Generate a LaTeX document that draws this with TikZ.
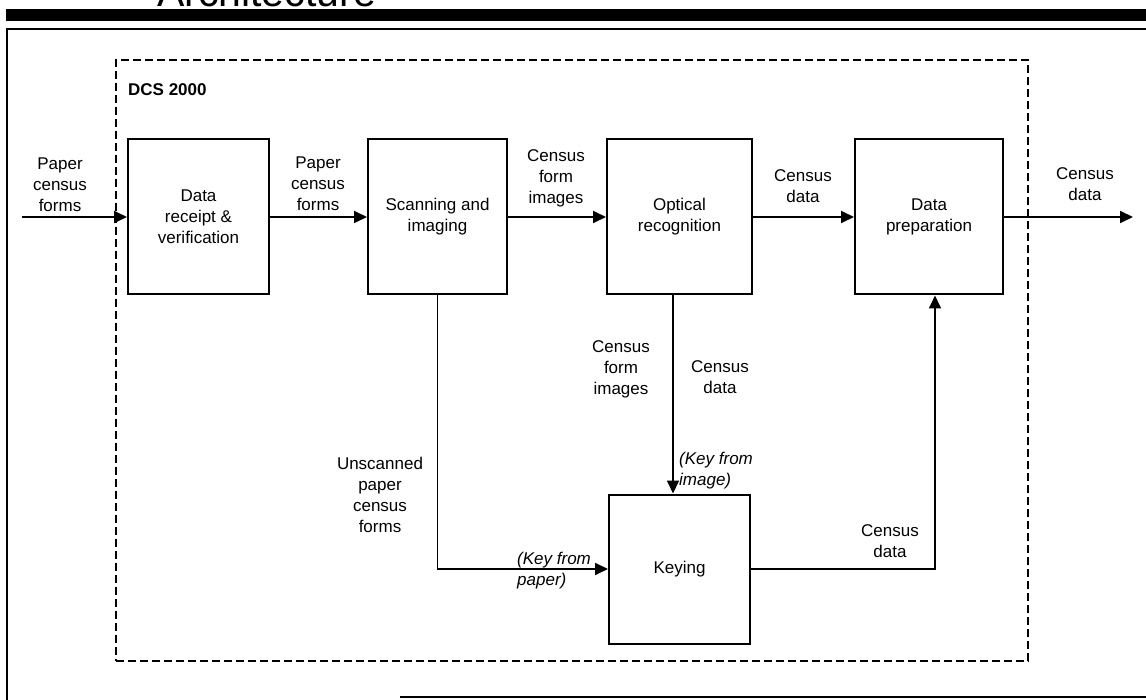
\documentclass[tikz,border=0pt]{standalone}
\usepackage{fontspec}
\setmainfont{Liberation Sans}
\usetikzlibrary{arrows.meta,positioning}

\begin{document}
\begin{tikzpicture}[x=1pt,y=-1pt,
    font=\fontsize{17}{21}\selectfont,
    box/.style={draw,line width=2pt,minimum width=141pt,minimum height=155pt,align=center,inner sep=2pt},
    lbl/.style={align=center,inner sep=0pt},
    keylbl/.style={align=left,inner sep=0pt,anchor=west,font=\fontsize{17}{21}\selectfont\itshape},
    flow/.style={line width=1.8pt,-{Triangle[length=13pt,width=12pt]}}]
  \useasboundingbox (0,0) rectangle (1146,700);
  % page header and frame
  \node[anchor=base west,inner sep=0pt,font=\fontsize{41}{41}\selectfont] (title) at (157,7) {Architecture};
  \fill (6,9) rectangle (1146,21);
  \draw[line width=2pt] (7,700) -- (7,29) -- (1146,29);
  \draw[line width=2pt] (400,697) -- (1146,697);
  % system boundary
  \node[draw,line width=1.8pt,dash pattern=on 8pt off 4pt,minimum width=912pt,minimum height=601pt] (dcs) at (572,360.5) {};
  \node[anchor=west,inner sep=0pt,font=\fontsize{17}{21}\selectfont\bfseries] (dcsname) at (128,90) {DCS 2000};
  % processing steps
  \node[box] (recv) at (198.5,217) {Data\\receipt \&\\verification};
  \node[box,minimum width=139pt] (scan) at (437.5,217) {Scanning and\\imaging};
  \node[box,minimum width=145pt] (ocr) at (679.5,217) {Optical\\recognition};
  \node[box,minimum width=148pt] (prep) at (929,217) {Data\\preparation};
  \node[box,minimum height=149pt] (key) at (679.5,569) {Keying};
  \coordinate (in) at (22,217);
  \coordinate (out) at (1133,217);
  % flows
  \draw[flow] (in) -- (recv.west);
  \draw[flow] (recv) -- (scan);
  \draw[flow] (scan) -- (ocr);
  \draw[flow] (ocr) -- (prep);
  \draw[flow] (prep.east) -- (out);
  \draw[flow] (scan.south) |- (key.west);
  \draw[flow] ([xshift=-6.5pt]ocr.south) -- ([xshift=-6.5pt]key.north);
  \draw[flow] (key.east) -| ([xshift=6pt]prep.south);
  % labels
  \node[lbl] (l1) at (60,185) {Paper\\census\\forms};
  \node[lbl] (l2) at (318,184) {Paper\\census\\forms};
  \node[lbl] (l3) at (556,178) {Census\\form\\images};
  \node[lbl] (l4) at (803,186) {Census\\data};
  \node[lbl] (l5) at (1085,184) {Census\\data};
  \node[lbl] (l6) at (380,495) {Unscanned\\paper\\census\\forms};
  \node[lbl] (l7) at (621,369) {Census\\form\\images};
  \node[lbl] (l8) at (720,377) {Census\\data};
  \node[lbl] (l9) at (890,541) {Census\\data};
  \node[keylbl] (kp) at (517,571) {(Key from\\paper)};
  \node[keylbl] (ki) at (679,471) {(Key from\\image)};
\end{tikzpicture}
\end{document}
